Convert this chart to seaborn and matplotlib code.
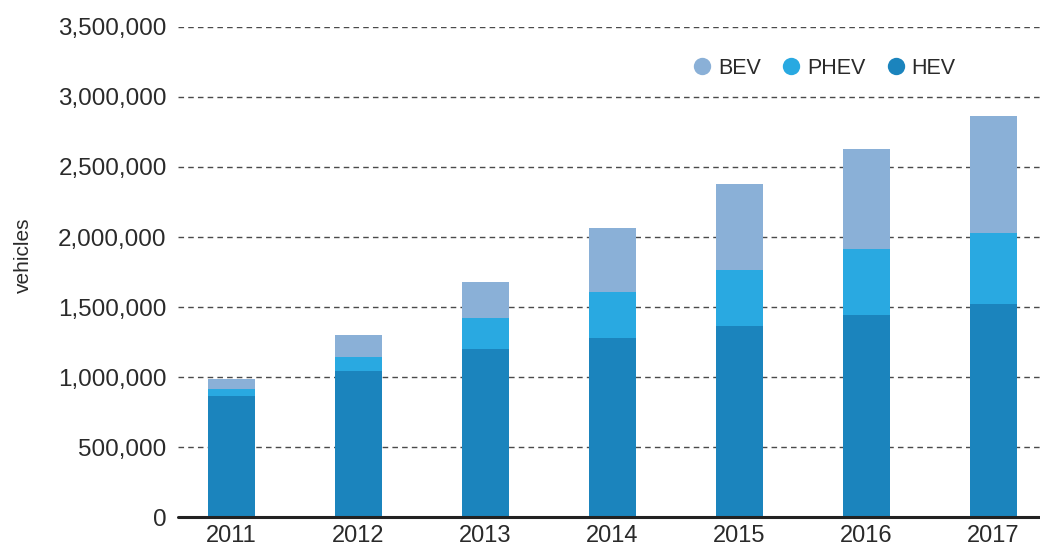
import matplotlib
matplotlib.use("Agg")
import matplotlib.pyplot as plt
from matplotlib.lines import Line2D
from matplotlib.ticker import FuncFormatter
import seaborn as sns
import pandas as pd
import numpy as np

years = ["2011", "2012", "2013", "2014", "2015", "2016", "2017"]
hev = [862000, 1041000, 1198000, 1276000, 1362000, 1441000, 1519000]
phev = [50000, 102000, 221000, 329000, 400000, 471000, 507000]
bev = [71000, 157000, 257000, 457000, 614000, 714000, 836000]
series_names = ["BEV", "PHEV", "HEV"]
colors = {"HEV": "#1b84bd", "PHEV": "#29a9e1", "BEV": "#8ab0d7"}

sns.set_theme(style="white")
plt.rcParams["font.family"] = ["Liberation Sans", "DejaVu Sans"]

df = pd.DataFrame({"year": years, "HEV": hev, "PHEV": phev, "BEV": bev})
df["cum_hev"] = df["HEV"]
df["cum_phev"] = df["HEV"] + df["PHEV"]
df["cum_bev"] = df["HEV"] + df["PHEV"] + df["BEV"]

fig = plt.figure(figsize=(10.4, 5.49), dpi=100)
ax = fig.add_axes([0.171, 0.058, 0.829, 0.893])

for col, name in [("cum_bev", "BEV"), ("cum_phev", "PHEV"), ("cum_hev", "HEV")]:
    sns.barplot(data=df, x="year", y=col, color=colors[name], width=0.37,
                saturation=1, ax=ax, zorder=3, edgecolor="none", linewidth=0)

ax.set_ylim(0, 3500000)
ax.set_xlim(-0.42, 6.37)
ax.set_yticks(np.arange(0, 3500001, 500000))
ax.yaxis.set_major_formatter(FuncFormatter(lambda v, p: f"{int(v):,}"))
for v in np.arange(500000, 3500001, 500000):
    ax.axhline(v, color="#4a4a4a", linestyle=(0, (4, 3)), linewidth=1.0, zorder=1)
ax.axhline(0, color="#222222", linewidth=2.2, zorder=4, clip_on=False)

for s in ax.spines.values():
    s.set_visible(False)
ax.tick_params(axis="y", length=0, pad=8, labelsize=17.5, labelcolor="#2a2a2a")
ax.tick_params(axis="x", length=0, pad=6, labelsize=17, labelcolor="#2a2a2a")
ax.set_xlabel("")
ax.set_ylabel("")
fig.text(0.023, 0.535, "vehicles", rotation=90, ha="center", va="center",
         fontsize=15, color="#2a2a2a")

handles = [Line2D([0], [0], marker="o", linestyle="none", markersize=12.5,
                  markerfacecolor=colors[n], markeredgecolor="none") for n in series_names]
leg = fig.legend(handles, series_names, loc="center left",
                 bbox_to_anchor=(0.667, 0.876), bbox_transform=fig.transFigure,
                 ncol=3, frameon=False, handlelength=0.8, handletextpad=0.34,
                 columnspacing=1.0, borderpad=0, borderaxespad=0,
                 prop={"size": 15.5})
for t in leg.get_texts():
    t.set_color("#2a2a2a")

fig.savefig("out.png", dpi=100)
